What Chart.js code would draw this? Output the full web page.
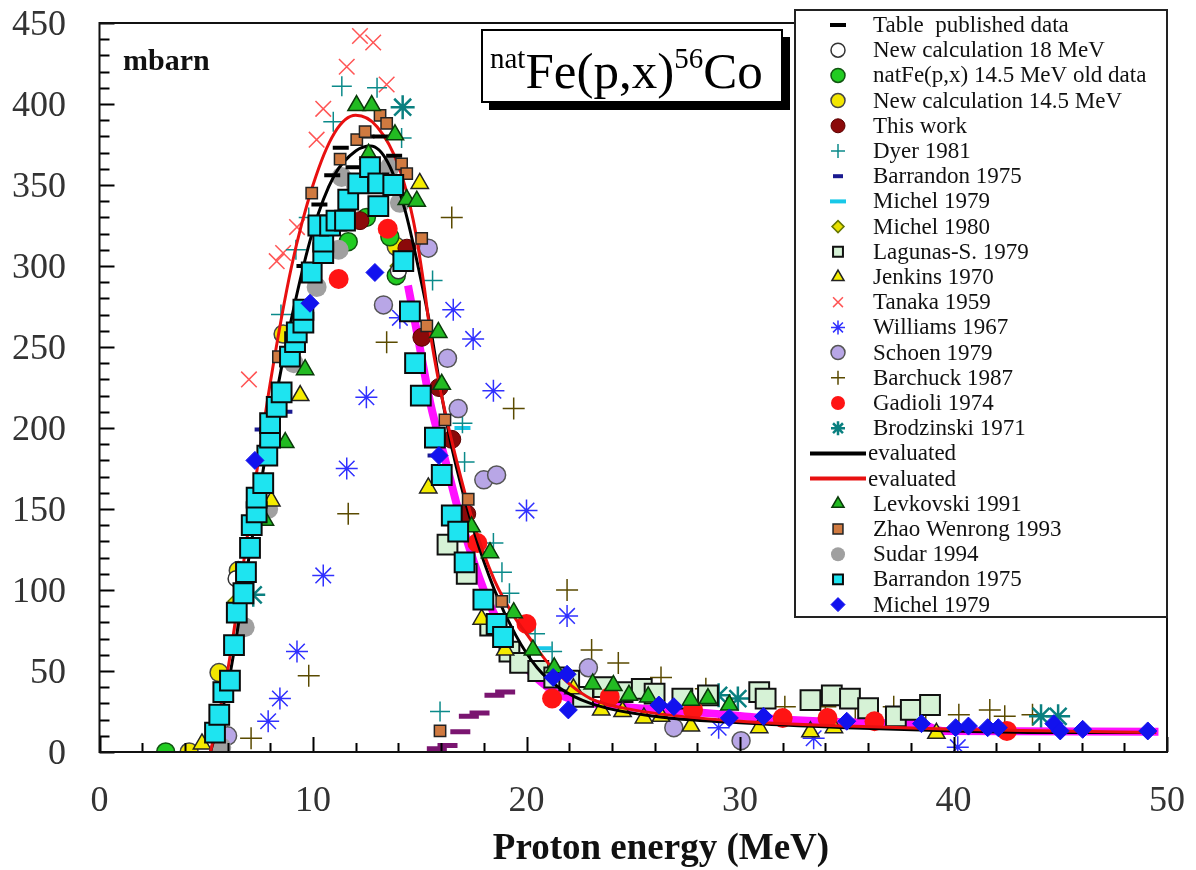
<!DOCTYPE html>
<html>
<head>
<meta charset="utf-8">
<script src="https://cdn.jsdelivr.net/npm/chart.js@4.4.0/dist/chart.umd.min.js"></script>
<style>
  html, body { margin: 0; padding: 0; background: #fff; }
  #wrap { width: 1196px; height: 870px; }
</style>
</head>
<body>
<div id="wrap"><canvas id="xsChart" width="1196" height="870"></canvas></div>
<script>
// axis ticks
const xTickValues = [0, 10, 20, 30, 40, 50];
const yTickValues = [0, 50, 100, 150, 200, 250, 300, 350, 400, 450];

// data sets, [energy MeV, cross section mbarn]
const tablePublished = [[9.6, 300], [10.3, 338], [10.9, 356], [11.3, 373], [11.9, 361], [12.5, 380], [13.2, 380], [13.8, 368]];
const newCalc18 = [[6.4, 107], [14.0, 297]];
const oldData145 = [[3.1, 0], [11.65, 315], [12.5, 330], [13.6, 318], [13.9, 294]];
const newCalc145 = [[4.2, 0], [5.6, 49], [6.5, 112], [8.6, 258], [13.9, 312]];
const thisWork = [[12.2, 328], [14.4, 311], [15.1, 256], [15.9, 225], [16.5, 193], [17.2, 147]];
const dyer1981 = [[8.5, 270], [9.2, 310], [9.8, 330], [10.95, 389], [11.35, 411], [13.0, 410], [14.15, 379], [15.6, 291], [15.95, 25],
  [17.0, 203], [17.1, 179], [18.45, 129], [18.85, 111], [19.2, 98], [20.4, 73], [21.2, 62]];
const barrandonDash = [[7.5, 199], [8.8, 210], [15.6, 183]];
const michelDash = [[17.0, 200], [20.8, 64]];
const michel1980 = [[6.3, 93], [13.9, 300]];
const lagunas1979 = [[16.3, 128], [17.2, 110], [18.3, 78], [19.2, 62], [19.7, 55], [20.55, 50], [21.3, 46], [22.0, 44], [22.65, 34],
  [23.6, 40], [24.5, 37], [25.4, 39], [26.0, 36], [27.3, 33], [28.5, 35], [30.9, 37], [31.2, 33], [33.3, 32], [34.3, 35],
  [35.15, 33], [36.0, 27], [37.3, 22], [38.0, 26], [38.9, 29]];
const jenkins1970 = [[4.8, 5], [8.05, 155], [9.4, 220], [15.0, 351], [15.4, 163], [17.9, 82], [19.0, 63], [22.2, 39], [23.5, 26],
  [24.5, 25], [25.5, 21], [26.3, 22], [27.7, 16], [30.9, 15], [33.3, 12.5], [34.4, 15], [39.2, 11.5]];
const tanaka1959 = [[7.0, 230], [8.3, 303], [8.6, 308], [9.25, 324], [10.17, 378], [10.48, 397], [11.58, 423], [12.2, 442], [12.82, 438], [13.45, 412]];
const williams1967 = [[7.9, 19], [8.45, 33], [9.25, 62], [10.48, 109], [11.58, 175], [12.5, 219], [14.07, 268], [16.57, 273], [17.5, 255],
  [18.45, 223], [20.0, 149], [21.9, 84], [29.0, 15], [33.45, 8.5], [40.2, 3]];
const schoen1979 = [[6.0, 10], [13.3, 276], [15.4, 311], [16.3, 243], [16.8, 212], [18.0, 168], [18.6, 171], [22.9, 52], [26.9, 15], [30.05, 7]];
const barchuck1987 = [[7.1, 8.5], [9.8, 47], [11.65, 147], [13.45, 253], [16.5, 330], [19.4, 212], [21.9, 100], [23.05, 63], [24.3, 55],
  [26.3, 46], [28.4, 39], [32.1, 28], [34.0, 28], [35.4, 27], [37.2, 28], [38.7, 24], [40.25, 23], [41.7, 26], [42.4, 22], [43.7, 23]];
const gadioli1974 = [[11.2, 292], [13.5, 323], [17.7, 129], [20.0, 79], [21.2, 33], [23.9, 34], [27.8, 26], [32.0, 21], [34.1, 21], [36.3, 19], [42.5, 13]];
const brodzinski1971 = [[7.2, 97], [14.2, 398], [29.0, 35], [29.9, 33], [44.1, 22], [44.9, 22]];
const evalBlack = [[5.2, 0], [6, 40], [7, 120], [8, 200], [9, 268], [10, 322], [11, 356], [12, 371], [12.7, 374], [13.5, 364], [14.3, 335],
  [15, 295], [15.5, 262], [16, 222], [16.5, 188], [17.5, 138], [18.5, 100], [19.5, 72], [20.5, 52], [21.5, 40], [23, 30], [26, 22],
  [30, 18], [35, 15], [40, 13], [45, 12], [49, 12]];
const evalRed = [[5.2, 0], [6, 50], [7, 140], [8, 228], [9, 300], [10, 350], [11, 382], [12, 393], [13, 386], [14, 362], [14.7, 328],
  [15.2, 288], [15.5, 258], [15.9, 228], [16.5, 192], [17.5, 142], [18.5, 106], [19.5, 82], [20, 73], [21, 55], [22, 42], [23, 33],
  [25, 26], [30, 19], [35, 16], [40, 14], [45, 13], [49.5, 12]];
const levkovski1991 = [[7.75, 143], [8.7, 191], [9.63, 236], [10.48, 317], [12.04, 399], [12.6, 369], [12.75, 399], [13.84, 381],
  [14.39, 341], [14.86, 340], [15.87, 259], [16.03, 227], [17.43, 139], [18.29, 123], [19.4, 86], [20.3, 63], [21.3, 52], [23.1, 42],
  [24.07, 41], [24.8, 35], [25.7, 34], [27.7, 32], [28.5, 33], [29.5, 29]];
const zhao1993 = [[8.38, 244], [9.94, 345], [11.27, 366], [12.05, 378], [12.44, 383], [13.14, 393], [13.45, 388], [14.15, 363],
  [14.39, 357], [15.09, 317], [15.33, 263], [15.95, 13], [16.18, 205], [17.27, 156], [18.84, 93]];
const sudar1994 = [[5.7, 3], [6.8, 77], [7.9, 150], [9.1, 240], [10.17, 287], [11.2, 310], [11.34, 355], [12.0, 350], [13.6, 361], [14.07, 339]];
const barrandon1975 = [[5.41, 12], [5.61, 23], [5.8, 37], [6.11, 44], [6.3, 66], [6.43, 86], [6.74, 98], [6.86, 111], [7.05, 126],
  [7.13, 140], [7.36, 148], [7.36, 157], [7.67, 166], [7.86, 183], [7.99, 194], [7.99, 203], [8.3, 213], [8.53, 222], [8.92, 244],
  [9.16, 253], [9.24, 259], [9.55, 265], [9.55, 273], [9.94, 296], [10.48, 308], [10.48, 315], [10.25, 325], [10.8, 325], [11.1, 328],
  [11.5, 328], [11.65, 341], [12.12, 351], [12.67, 361], [13.06, 351], [13.76, 350], [13.06, 337], [14.23, 303], [14.54, 272],
  [14.78, 240], [15.05, 220], [15.71, 194], [16.03, 171], [16.5, 146], [16.8, 136], [17.1, 117], [17.98, 94], [18.6, 79], [18.9, 71]];
const michel1979 = [[7.28, 180], [9.86, 277], [12.9, 296], [15.9, 183], [21.25, 46], [21.9, 48], [21.96, 26], [26.2, 29], [26.9, 28],
  [29.5, 21], [31.1, 22], [35.0, 19], [38.5, 17.5], [40.1, 15], [40.7, 16], [41.6, 15], [42.1, 15], [44.7, 17.5], [45.0, 13],
  [46.05, 14], [49.1, 13]];
const purpleDash = [[15.8, 2], [16.3, 4], [16.9, 12.5], [17.3, 22], [17.8, 24], [18.5, 35], [19.0, 37]];
const calcMagenta = [[14.45, 288], [15.0, 250], [15.5, 215], [16.2, 180], [17, 140], [18, 100], [19, 72], [20, 52], [21, 40], [22, 33],
  [24.5, 28], [28.5, 24], [32, 20], [36, 18], [38.5, 17], [39.5, 13], [49.6, 12.5]];

function pts(arr) {
    return arr.map(p => ({ x: p[0], y: p[1] }));
}

function markers(label, data, style, radius, fill, stroke, width, order) {
    return {
        label: label,
        data: pts(data),
        pointStyle: style,
        pointRadius: radius,
        backgroundColor: fill,
        borderColor: stroke,
        pointBackgroundColor: fill,
        pointBorderColor: stroke,
        pointBorderWidth: width,
        borderWidth: width,
        showLine: false,
        order: order
    };
}

function curve(label, data, color, width, order) {
    return {
        label: label,
        data: pts(data),
        showLine: true,
        borderColor: color,
        backgroundColor: color,
        borderWidth: width,
        pointRadius: 0,
        cubicInterpolationMode: 'monotone',
        order: order,
        isLine: true
    };
}

const dsTable = markers('Table  published data', tablePublished, 'line', 8, '#000', '#000', 4, 4);
const dsCalc18 = markers('New calculation 18 MeV', newCalc18, 'circle', 8, '#ffffff', '#333', 1.5, 12);
const dsOld145 = markers('natFe(p,x) 14.5 MeV old data', oldData145, 'circle', 9, '#22cc22', '#115511', 1.5, 12);
const dsCalc145 = markers('New calculation 14.5 MeV', newCalc145, 'circle', 9, '#f2e600', '#444', 1.5, 12);
const dsThisWork = markers('This work', thisWork, 'circle', 9, '#8b0a0a', '#5a0000', 1, 7);
const dsDyer = markers('Dyer 1981', dyer1981, 'cross', 10, '#0b8a8a', '#0b8a8a', 1.5, 13);
const dsBarrDash = markers('Barrandon 1975', barrandonDash, 'line', 5, '#1a1a90', '#1a1a90', 4, 13);
const dsMichDash = markers('Michel 1979', michelDash, 'line', 8, '#18c8e8', '#18c8e8', 4, 13);
const dsMichel80 = markers('Michel 1980', michel1980, 'rectRot', 6, '#e8e000', '#667700', 1.5, 13);
const dsLagunas = markers('Lagunas-S. 1979', lagunas1979, 'rect', 14, '#d6f2d6', '#111', 2, 9);
const dsJenkins = markers('Jenkins 1970', jenkins1970, 'triangle', 10, '#f4ec00', '#222', 1.5, 8);
const dsTanaka = markers('Tanaka 1959', tanaka1959, 'crossRot', 11, '#ff5555', '#ff5555', 1.5, 14);
const dsWilliams = markers('Williams 1967', williams1967, 'star', 11, '#3030ff', '#3030ff', 1.5, 14);
const dsSchoen = markers('Schoen 1979', schoen1979, 'circle', 9, '#b8a6e6', '#555', 1.5, 12);
const dsBarchuck = markers('Barchuck 1987', barchuck1987, 'cross', 11, '#5a4a00', '#5a4a00', 1.5, 14);
const dsGadioli = markers('Gadioli 1974', gadioli1974, 'circle', 10, '#ff1414', '#ff1414', 0, 7);
const dsBrodz = markers('Brodzinski 1971', brodzinski1971, 'star', 12, '#10a8a8', '#0a8080', 2.5, 13);
const dsEvalBlack = curve('evaluated', evalBlack, '#000000', 3, 6);
const dsEvalRed = curve('evaluated', evalRed, '#e81010', 3, 5);
const dsLevkovski = markers('Levkovski 1991', levkovski1991, 'triangle', 10, '#22bb22', '#0a3a0a', 1.5, 2);
const dsZhao = markers('Zhao Wenrong 1993', zhao1993, 'rect', 8, '#d07a40', '#222', 1.5, 3);
const dsSudar = markers('Sudar 1994', sudar1994, 'circle', 10, '#a0a0a0', '#a0a0a0', 0, 10);
const dsBarrandon = markers('Barrandon 1975', barrandon1975, 'rect', 14, '#1ee4f0', '#0a0a0a', 2, 1);
const dsMichel79 = markers('Michel 1979', michel1979, 'rectRot', 9, '#1212ee', '#1212ee', 1, 0);
const dsPurple = markers('', purpleDash, 'line', 10, '#7a1570', '#7a1570', 5, 11);
const dsMagenta = curve('', calcMagenta, '#ff10ff', 8, 11);

const allSets = [dsTable, dsCalc18, dsOld145, dsCalc145, dsThisWork, dsDyer, dsBarrDash, dsMichDash, dsMichel80, dsLagunas,
    dsJenkins, dsTanaka, dsWilliams, dsSchoen, dsBarchuck, dsGadioli, dsBrodz, dsEvalBlack, dsEvalRed, dsLevkovski, dsZhao,
    dsSudar, dsBarrandon, dsMichel79, dsPurple, dsMagenta];

// legend rows, in the order of the printed legend
const legendRows = [dsTable, dsCalc18, dsOld145, dsCalc145, dsThisWork, dsDyer, dsBarrDash, dsMichDash, dsMichel80, dsLagunas,
    dsJenkins, dsTanaka, dsWilliams, dsSchoen, dsBarchuck, dsGadioli, dsBrodz, dsEvalBlack, dsEvalRed, dsLevkovski, dsZhao,
    dsSudar, dsBarrandon, dsMichel79];

const serif = "'Liberation Serif', 'Times New Roman', serif";

// frame, inside ticks, labels, title box and legend
const decorPlugin = {
    id: 'decor',
    afterDraw(chart) {
        const ctx = chart.ctx;
        const a = chart.chartArea;
        const xs = chart.scales.x, ys = chart.scales.y;
        ctx.save();

        // inside ticks
        ctx.strokeStyle = '#000';
        ctx.lineWidth = 2;
        ctx.beginPath();
        for (let v = 0; v <= 50; v += 2) {
            const px = Math.round(xs.getPixelForValue(v)) + 0.5;
            const len = v % 10 === 0 ? 15 : 9;
            ctx.moveTo(px, a.bottom);
            ctx.lineTo(px, a.bottom - len);
        }
        for (let v = 0; v <= 450; v += 10) {
            const py = Math.round(ys.getPixelForValue(v)) + 0.5;
            const len = v % 50 === 0 ? 15 : 10;
            ctx.moveTo(a.left, py);
            ctx.lineTo(a.left + len, py);
        }
        ctx.stroke();

        // frame
        ctx.lineWidth = 2;
        ctx.strokeStyle = '#111';
        ctx.strokeRect(a.left, a.top, a.right - a.left, a.bottom - a.top);

        // tick labels
        ctx.fillStyle = '#333';
        ctx.font = '36px ' + serif;
        ctx.textBaseline = 'alphabetic';
        ctx.textAlign = 'center';
        xTickValues.forEach(v => ctx.fillText(String(v), xs.getPixelForValue(v), 811));
        ctx.textAlign = 'right';
        yTickValues.forEach(v => ctx.fillText(String(v), 66, ys.getPixelForValue(v) + 12));

        // mbarn
        ctx.fillStyle = '#111';
        ctx.font = 'bold 30px ' + serif;
        ctx.textAlign = 'left';
        ctx.fillText('mbarn', 123, 70);

        // axis title
        ctx.font = 'bold 37px ' + serif;
        ctx.textAlign = 'center';
        ctx.fillText('Proton energy (MeV)', 661, 859);

        // reaction box with shadow
        ctx.fillStyle = '#000';
        ctx.fillRect(489, 37, 301, 73);
        ctx.fillStyle = '#fff';
        ctx.fillRect(482, 30, 300, 72);
        ctx.strokeStyle = '#000';
        ctx.lineWidth = 2;
        ctx.strokeRect(482, 30, 300, 72);
        ctx.fillStyle = '#000';
        ctx.textAlign = 'left';
        let tx = 490;
        const parts = [['nat', 29, -20], ['Fe(p,x)', 51, 0], ['56', 29, -20], ['Co', 51, 0]];
        parts.forEach(p => {
            ctx.font = p[1] + 'px ' + serif;
            ctx.fillText(p[0], tx, 88 + p[2]);
            tx += ctx.measureText(p[0]).width;
        });

        // legend box
        const lx = 795, ly = 10, lw = 372, lh = 607;
        ctx.fillStyle = '#fff';
        ctx.fillRect(lx, ly, lw, lh);
        ctx.strokeStyle = '#222';
        ctx.lineWidth = 2;
        ctx.strokeRect(lx, ly, lw, lh);
        ctx.font = '23px ' + serif;
        ctx.textBaseline = 'middle';
        legendRows.forEach((ds, i) => {
            const cy = 25 + i * 25.2;
            ctx.save();
            if (ds.isLine) {
                ctx.strokeStyle = ds.borderColor;
                ctx.lineWidth = 4;
                ctx.beginPath();
                ctx.moveTo(810, cy);
                ctx.lineTo(866, cy);
                ctx.stroke();
            } else {
                ctx.fillStyle = ds.backgroundColor;
                ctx.strokeStyle = ds.borderColor;
                ctx.lineWidth = ds.pointBorderWidth;
                const r = Math.min(ds.pointRadius, ds.pointStyle === 'line' ? 8 : 7);
                Chart.helpers.drawPoint(ctx, {
                    pointStyle: ds.pointStyle,
                    radius: r,
                    borderWidth: ds.pointBorderWidth,
                    rotation: 0
                }, 838, cy);
            }
            ctx.restore();
            ctx.fillStyle = '#111';
            ctx.fillText(ds.label, ds.isLine ? 868 : 873, cy + 1);
        });
        ctx.restore();
    }
};

new Chart(document.getElementById('xsChart'), {
    type: 'scatter',
    data: { datasets: allSets },
    options: {
        responsive: false,
        animation: false,
        events: [],
        devicePixelRatio: 1,
        layout: { padding: { top: 23, right: 29, left: 0, bottom: 0 } },
        plugins: {
            legend: { display: false },
            tooltip: { enabled: false }
        },
        scales: {
            x: {
                type: 'linear',
                min: 0,
                max: 50,
                afterBuildTicks: axis => { axis.ticks = xTickValues.map(v => ({ value: v })); },
                afterFit: axis => { axis.height = 118; },
                grid: { display: false, drawTicks: false },
                border: { display: false },
                ticks: { display: false }
            },
            y: {
                type: 'linear',
                min: 0,
                max: 450,
                afterBuildTicks: axis => { axis.ticks = yTickValues.map(v => ({ value: v })); },
                afterFit: axis => { axis.width = 99.5; },
                grid: { display: false, drawTicks: false },
                border: { display: false },
                ticks: { display: false }
            }
        }
    },
    plugins: [decorPlugin]
});
</script>
</body>
</html>
